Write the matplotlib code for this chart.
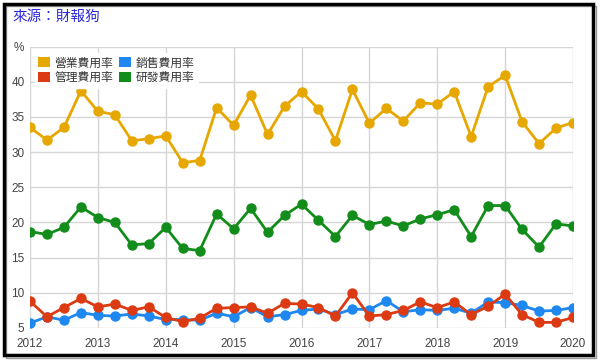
import matplotlib
matplotlib.use("Agg")
import matplotlib.pyplot as plt
from matplotlib.patches import Patch, Rectangle
import numpy as np

plt.rcParams['font.family'] = ['Noto Sans CJK TC', 'DejaVu Sans']

quarters = [2012 + i * 0.25 for i in range(33)]
years = list(range(2012, 2021))

op_rate = [33.5, 31.7, 33.5, 38.7, 35.8, 35.3, 31.6, 31.9, 32.3, 28.5, 28.8, 36.3,
           33.8, 38.1, 32.5, 36.5, 38.6, 36.1, 31.6, 38.9, 34.1, 36.2, 34.4, 37.0,
           36.8, 38.6, 32.2, 39.3, 40.9, 34.3, 31.2, 33.4, 34.2]
sales_rate = [5.7, 6.6, 6.1, 7.2, 6.8, 6.7, 7.0, 6.7, 6.2, 6.2, 6.1, 7.1,
              6.6, 7.9, 6.6, 6.9, 7.5, 7.7, 6.9, 7.7, 7.6, 8.9, 7.3, 7.6,
              7.5, 7.8, 7.1, 8.7, 8.6, 8.2, 7.4, 7.5, 7.9]
admin_rate = [8.8, 6.6, 7.9, 9.2, 8.0, 8.4, 7.5, 8.0, 6.5, 5.9, 6.4, 7.8,
              7.9, 8.0, 7.1, 8.5, 8.4, 7.9, 6.7, 10.0, 6.7, 6.9, 7.5, 8.7,
              7.9, 8.7, 6.9, 8.1, 9.8, 6.9, 5.8, 5.8, 6.5]
rd_rate = [18.7, 18.3, 19.3, 22.2, 20.7, 20.0, 16.8, 17.0, 19.3, 16.3, 16.0, 21.2,
           19.1, 22.0, 18.6, 21.0, 22.6, 20.3, 18.0, 21.0, 19.7, 20.2, 19.5, 20.5,
           21.1, 21.8, 18.0, 22.4, 22.4, 19.0, 16.5, 19.8, 19.5]

names = ['營業費用率', '銷售費用率', '管理費用率', '研發費用率']
colors = ['#E6A700', '#1E88F0', '#DC3A12', '#128C1A']
yticks = [5, 10, 15, 20, 25, 30, 35, 40]

fig = plt.figure(figsize=(6.0, 3.61), dpi=100)
ax = fig.add_axes([30/600, 1-328/361, (573-30)/600, (328-46.5)/361])

series = [op_rate, sales_rate, admin_rate, rd_rate]
for vals, c in zip(series, colors):
    ax.plot(quarters, vals, color=c, lw=2, marker='o', ms=6.5, zorder=3,
            solid_joinstyle='round')

ax.set_xlim(2012, 2020)
ax.set_ylim(5, 45)
ax.set_xticks(years)
ax.set_xticklabels([str(y) for y in years])
ax.set_yticks(yticks + [45])
ax.set_yticklabels([str(t) for t in yticks] + ['%'])
ax.grid(True, color='#d6d6d6', lw=1, zorder=0)
for s in ax.spines.values():
    s.set_visible(False)
ax.tick_params(length=0, labelsize=8.5, colors='#444444', pad=4)
ax.tick_params(axis='x', pad=7)
for lab in ax.get_xticklabels():
    lab.set_family(['Liberation Sans', 'DejaVu Sans'])
for lab in ax.get_yticklabels():
    lab.set_family(['Liberation Sans', 'DejaVu Sans'])

handles = [Patch(facecolor=colors[0]), Patch(facecolor=colors[2]),
           Patch(facecolor=colors[1]), Patch(facecolor=colors[3])]
labels = [names[0], names[2], names[1], names[3]]
leg = ax.legend(handles, labels, ncol=2, loc='upper left',
                bbox_to_anchor=(0.002, 0.99), frameon=True, fancybox=False,
                framealpha=1, edgecolor='white', fontsize=8.5,
                handlelength=1.0, handleheight=0.9, handletextpad=0.4,
                columnspacing=0.5, labelspacing=0.15, borderpad=0.3,
                borderaxespad=0.3)
for t in leg.get_texts():
    t.set_color('#333333')
leg.set_zorder(5)

fig.text(12/600, 1-17/361, '來源：財報狗', color='#2A2ADB', fontsize=10.5,
         va='center', ha='left')

fig.patches.append(Rectangle((3.5/600, 1-355/361), (593-3.5)/600, (355-3.5)/361,
                             transform=fig.transFigure, fill=False,
                             edgecolor='black', lw=2.5))
fig.patches.append(Rectangle((6/600, 1-358/361), (596-6)/600, (358-6)/361,
                             transform=fig.transFigure, fill=False,
                             edgecolor='#999999', lw=1, zorder=-1))

fig.savefig('out.png', dpi=100)
